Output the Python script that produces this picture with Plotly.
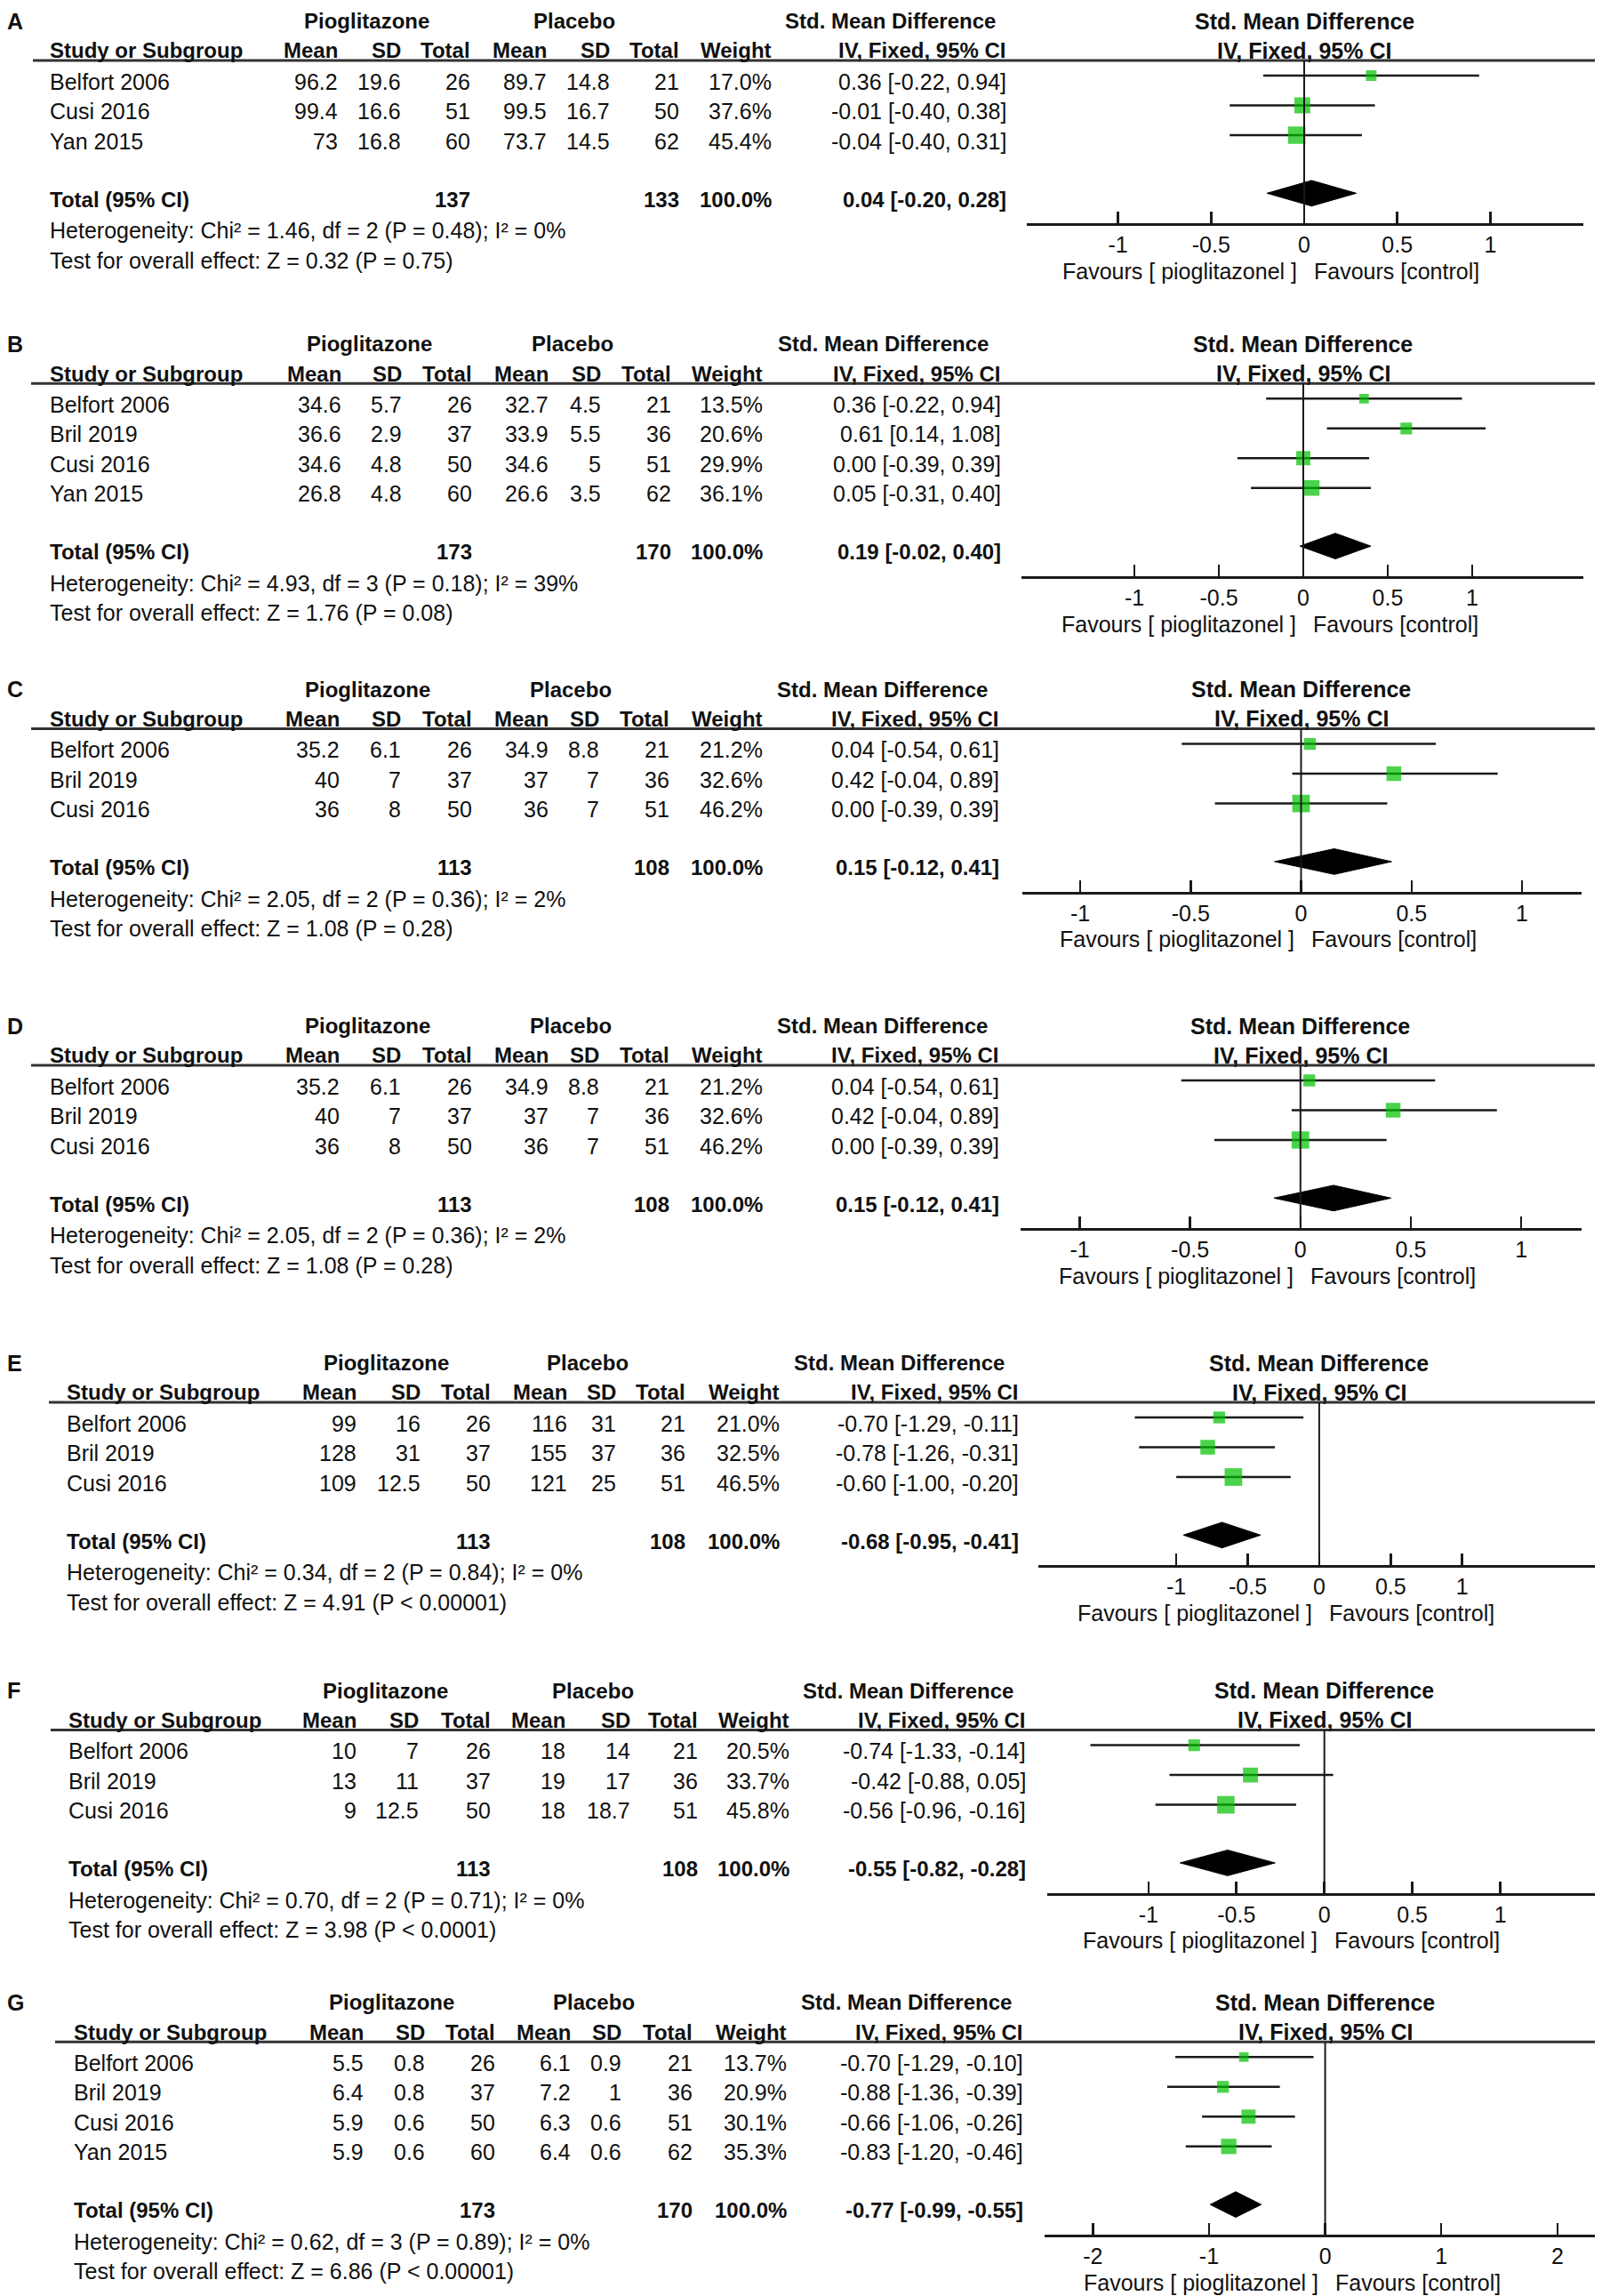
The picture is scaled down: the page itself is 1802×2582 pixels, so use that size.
import math
import plotly.graph_objects as go

W, H = 1802, 2582
FONT = "Liberation Sans, Arial, Helvetica, sans-serif"
TXT = "#111111"
GREEN = "#00c000"

# ------------------------------------------------------------------ data
A_study = ["Belfort 2006", "Cusi 2016", "Yan 2015"]
A_pio_mean = [96.2, 99.4, 73]
A_pio_sd = [19.6, 16.6, 16.8]
A_pio_n = [26, 51, 60]
A_pla_mean = [89.7, 99.5, 73.7]
A_pla_sd = [14.8, 16.7, 14.5]
A_pla_n = [21, 50, 62]
A_weight = [17.0, 37.6, 45.4]
A_smd = [0.36, -0.01, -0.04]
A_lo = [-0.22, -0.40, -0.40]
A_hi = [0.94, 0.38, 0.31]
A_total = [137, 133, 100.0, 0.04, -0.20, 0.28]
A_het = "Heterogeneity: Chi² = 1.46, df = 2 (P = 0.48); I² = 0%"
A_test = "Test for overall effect: Z = 0.32 (P = 0.75)"
A_tickvals = [-1, -0.5, 0, 0.5, 1]
A_ticktext = ["-1", "-0.5", "0", "0.5", "1"]

B_study = ["Belfort 2006", "Bril 2019", "Cusi 2016", "Yan 2015"]
B_pio_mean = [34.6, 36.6, 34.6, 26.8]
B_pio_sd = [5.7, 2.9, 4.8, 4.8]
B_pio_n = [26, 37, 50, 60]
B_pla_mean = [32.7, 33.9, 34.6, 26.6]
B_pla_sd = [4.5, 5.5, 5, 3.5]
B_pla_n = [21, 36, 51, 62]
B_weight = [13.5, 20.6, 29.9, 36.1]
B_smd = [0.36, 0.61, 0.00, 0.05]
B_lo = [-0.22, 0.14, -0.39, -0.31]
B_hi = [0.94, 1.08, 0.39, 0.40]
B_total = [173, 170, 100.0, 0.19, -0.02, 0.40]
B_het = "Heterogeneity: Chi² = 4.93, df = 3 (P = 0.18); I² = 39%"
B_test = "Test for overall effect: Z = 1.76 (P = 0.08)"
B_tickvals = [-1, -0.5, 0, 0.5, 1]
B_ticktext = ["-1", "-0.5", "0", "0.5", "1"]

C_study = ["Belfort 2006", "Bril 2019", "Cusi 2016"]
C_pio_mean = [35.2, 40, 36]
C_pio_sd = [6.1, 7, 8]
C_pio_n = [26, 37, 50]
C_pla_mean = [34.9, 37, 36]
C_pla_sd = [8.8, 7, 7]
C_pla_n = [21, 36, 51]
C_weight = [21.2, 32.6, 46.2]
C_smd = [0.04, 0.42, 0.00]
C_lo = [-0.54, -0.04, -0.39]
C_hi = [0.61, 0.89, 0.39]
C_total = [113, 108, 100.0, 0.15, -0.12, 0.41]
C_het = "Heterogeneity: Chi² = 2.05, df = 2 (P = 0.36); I² = 2%"
C_test = "Test for overall effect: Z = 1.08 (P = 0.28)"
C_tickvals = [-1, -0.5, 0, 0.5, 1]
C_ticktext = ["-1", "-0.5", "0", "0.5", "1"]

D_study = ["Belfort 2006", "Bril 2019", "Cusi 2016"]
D_pio_mean = [35.2, 40, 36]
D_pio_sd = [6.1, 7, 8]
D_pio_n = [26, 37, 50]
D_pla_mean = [34.9, 37, 36]
D_pla_sd = [8.8, 7, 7]
D_pla_n = [21, 36, 51]
D_weight = [21.2, 32.6, 46.2]
D_smd = [0.04, 0.42, 0.00]
D_lo = [-0.54, -0.04, -0.39]
D_hi = [0.61, 0.89, 0.39]
D_total = [113, 108, 100.0, 0.15, -0.12, 0.41]
D_het = "Heterogeneity: Chi² = 2.05, df = 2 (P = 0.36); I² = 2%"
D_test = "Test for overall effect: Z = 1.08 (P = 0.28)"
D_tickvals = [-1, -0.5, 0, 0.5, 1]
D_ticktext = ["-1", "-0.5", "0", "0.5", "1"]

E_study = ["Belfort 2006", "Bril 2019", "Cusi 2016"]
E_pio_mean = [99, 128, 109]
E_pio_sd = [16, 31, 12.5]
E_pio_n = [26, 37, 50]
E_pla_mean = [116, 155, 121]
E_pla_sd = [31, 37, 25]
E_pla_n = [21, 36, 51]
E_weight = [21.0, 32.5, 46.5]
E_smd = [-0.70, -0.78, -0.60]
E_lo = [-1.29, -1.26, -1.00]
E_hi = [-0.11, -0.31, -0.20]
E_total = [113, 108, 100.0, -0.68, -0.95, -0.41]
E_het = "Heterogeneity: Chi² = 0.34, df = 2 (P = 0.84); I² = 0%"
E_test = "Test for overall effect: Z = 4.91 (P < 0.00001)"
E_tickvals = [-1, -0.5, 0, 0.5, 1]
E_ticktext = ["-1", "-0.5", "0", "0.5", "1"]

F_study = ["Belfort 2006", "Bril 2019", "Cusi 2016"]
F_pio_mean = [10, 13, 9]
F_pio_sd = [7, 11, 12.5]
F_pio_n = [26, 37, 50]
F_pla_mean = [18, 19, 18]
F_pla_sd = [14, 17, 18.7]
F_pla_n = [21, 36, 51]
F_weight = [20.5, 33.7, 45.8]
F_smd = [-0.74, -0.42, -0.56]
F_lo = [-1.33, -0.88, -0.96]
F_hi = [-0.14, 0.05, -0.16]
F_total = [113, 108, 100.0, -0.55, -0.82, -0.28]
F_het = "Heterogeneity: Chi² = 0.70, df = 2 (P = 0.71); I² = 0%"
F_test = "Test for overall effect: Z = 3.98 (P < 0.0001)"
F_tickvals = [-1, -0.5, 0, 0.5, 1]
F_ticktext = ["-1", "-0.5", "0", "0.5", "1"]

G_study = ["Belfort 2006", "Bril 2019", "Cusi 2016", "Yan 2015"]
G_pio_mean = [5.5, 6.4, 5.9, 5.9]
G_pio_sd = [0.8, 0.8, 0.6, 0.6]
G_pio_n = [26, 37, 50, 60]
G_pla_mean = [6.1, 7.2, 6.3, 6.4]
G_pla_sd = [0.9, 1, 0.6, 0.6]
G_pla_n = [21, 36, 51, 62]
G_weight = [13.7, 20.9, 30.1, 35.3]
G_smd = [-0.70, -0.88, -0.66, -0.83]
G_lo = [-1.29, -1.36, -1.06, -1.20]
G_hi = [-0.10, -0.39, -0.26, -0.46]
G_total = [173, 170, 100.0, -0.77, -0.99, -0.55]
G_het = "Heterogeneity: Chi² = 0.62, df = 3 (P = 0.89); I² = 0%"
G_test = "Test for overall effect: Z = 6.86 (P < 0.00001)"
G_tickvals = [-2, -1, 0, 1, 2]
G_ticktext = ["-2", "-1", "0", "1", "2"]

HEAD_GROUPS = ["Pioglitazone", "Placebo", "Std. Mean Difference"]
HEAD_COLS = ["Mean", "SD", "Total", "Mean", "SD", "Total", "Weight", "IV, Fixed, 95% CI"]
RIGHT_HEAD = ["Std. Mean Difference", "IV, Fixed, 95% CI"]
FAV_LEFT = "Favours [ pioglitazonel ]"
FAV_RIGHT = "Favours [control]"

# ------------------------------------------------------------------ geometry (pixels)
DY = 33.5
SHIFT_X = -7
SHIFT_Y = -8
GEOM = {
    "A": dict(r0=91.7, line_x=36, study_x=55, cols=[379, 450, 528, 614, 685, 763, 867, 1131],
              hdr=[411, 645, 1000], zero=1466, scale=209.4, xr=(-1.49, 1.50)),
    "B": dict(r0=455, line_x=34, study_x=55, cols=[383, 451, 530, 616, 675, 754, 857, 1125],
              hdr=[414, 643, 992], zero=1465, scale=189.9, xr=(-1.67, 1.66)),
    "C": dict(r0=843.3, line_x=34, study_x=55, cols=[381, 450, 530, 616, 673, 752, 857, 1123],
              hdr=[412, 641, 991], zero=1462.5, scale=248.5, xr=(-1.26, 1.27)),
    "D": dict(r0=1221.7, line_x=34, study_x=55, cols=[381, 450, 530, 616, 673, 752, 857, 1123],
              hdr=[412, 641, 991], zero=1461.8, scale=248.3, xr=(-1.268, 1.275)),
    "E": dict(r0=1600.7, line_x=54, study_x=74, cols=[400, 472, 551, 637, 692, 770, 876, 1145],
              hdr=[433, 660, 1010], zero=1482.9, scale=160.8, xr=(-1.963, 2.02)),
    "F": dict(r0=1969.3, line_x=56, study_x=76, cols=[400, 470, 551, 635, 708, 784, 887, 1153],
              hdr=[432, 666, 1021], zero=1488.7, scale=197.9, xr=(-1.575, 1.61)),
    "G": dict(r0=2320, line_x=61, study_x=82, cols=[408, 477, 556, 641, 698, 778, 884, 1150],
              hdr=[439, 667, 1018], zero=1489.6, scale=130.65, xr=(-2.416, 2.44)),
}

PANELS = [
    ("A", A_study, A_pio_mean, A_pio_sd, A_pio_n, A_pla_mean, A_pla_sd, A_pla_n, A_weight, A_smd, A_lo, A_hi, A_total, A_het, A_test, A_tickvals, A_ticktext),
    ("B", B_study, B_pio_mean, B_pio_sd, B_pio_n, B_pla_mean, B_pla_sd, B_pla_n, B_weight, B_smd, B_lo, B_hi, B_total, B_het, B_test, B_tickvals, B_ticktext),
    ("C", C_study, C_pio_mean, C_pio_sd, C_pio_n, C_pla_mean, C_pla_sd, C_pla_n, C_weight, C_smd, C_lo, C_hi, C_total, C_het, C_test, C_tickvals, C_ticktext),
    ("D", D_study, D_pio_mean, D_pio_sd, D_pio_n, D_pla_mean, D_pla_sd, D_pla_n, D_weight, D_smd, D_lo, D_hi, D_total, D_het, D_test, D_tickvals, D_ticktext),
    ("E", E_study, E_pio_mean, E_pio_sd, E_pio_n, E_pla_mean, E_pla_sd, E_pla_n, E_weight, E_smd, E_lo, E_hi, E_total, E_het, E_test, E_tickvals, E_ticktext),
    ("F", F_study, F_pio_mean, F_pio_sd, F_pio_n, F_pla_mean, F_pla_sd, F_pla_n, F_weight, F_smd, F_lo, F_hi, F_total, F_het, F_test, F_tickvals, F_ticktext),
    ("G", G_study, G_pio_mean, G_pio_sd, G_pio_n, G_pla_mean, G_pla_sd, G_pla_n, G_weight, G_smd, G_lo, G_hi, G_total, G_het, G_test, G_tickvals, G_ticktext),
]

# row-unit offsets (relative to first study row)
TXT_OFF = 0.2
V_HDR1 = -1.83
V_HDR2 = -0.84
V_LINE = -0.51
TOT_GAP = 0.95     # total row = n + TOT_GAP
V_AXIS = 1.99      # axis line = n + V_AXIS
V_HET = 2.2
V_TEST = 3.2
V_FAV = 3.56
DIAMOND_H = 0.43


def num(v):
    return str(v)


fig = go.Figure()
annotations = []
shapes = []
layout_axes = {}


def ann(text, x, y, yref, xanchor="right", bold=False, size=25, xref="paper", xshift=0):
    if bold:
        text = "<b>" + text + "</b>"
    annotations.append(dict(text=text, x=x, y=y, xref=xref, yref=yref, xanchor=xanchor,
                            yanchor="middle", showarrow=False, borderpad=0, borderwidth=0,
                            xshift=xshift,
                            font=dict(family=FONT, size=size, color=TXT)))


def xp(pix):
    return (pix + SHIFT_X) / W


for idx, (letter, study, pm, ps, pn, cm, cs, cn, wt, smd, lo, hi, tot, het, test, tv, tt) in enumerate(PANELS, start=1):
    g = GEOM[letter]
    n = len(study)
    sfx = "" if idx == 1 else str(idx)
    xref, yref = "x" + sfx, "y" + sfx
    r0 = g["r0"] - TXT_OFF * DY + SHIFT_Y

    def px(v):
        return r0 + v * DY

    top_px = max(0.0, px(V_HDR1) - 30)
    bot_px = min(float(H), px(n + V_FAV) + 26)
    yrange = [(bot_px - r0) / DY, (top_px - r0) / DY]
    ydom = [1 - bot_px / H, 1 - top_px / H]
    zero = g["zero"] + SHIFT_X
    xr = list(g["xr"])
    right_px = zero + xr[1] * g["scale"]
    if right_px > W:
        xr[1] = (W - zero) / g["scale"]
    xdom = [max(0, (zero + xr[0] * g["scale"]) / W), min(1, (zero + xr[1] * g["scale"]) / W)]
    v_axis = n + V_AXIS
    v_tot = n + TOT_GAP

    layout_axes["xaxis" + sfx] = dict(
        domain=xdom, range=xr, anchor="free", position=1 - px(v_axis) / H,
        showline=True, linewidth=3, linecolor="#1a1a1a", ticks="inside", ticklen=13,
        tickwidth=2.5, tickcolor="#1a1a1a", tickmode="array", tickvals=tv, ticktext=tt,
        tickfont=dict(family=FONT, size=25, color=TXT), showgrid=False, zeroline=False,
        fixedrange=True, ticklabelstandoff=0)
    layout_axes["yaxis" + sfx] = dict(domain=ydom, range=yrange, visible=False,
                                      anchor=xref, fixedrange=True)

    # CI lines
    cx, cy = [], []
    for i in range(n):
        cx += [lo[i], hi[i], None]
        cy += [i, i, None]
    fig.add_trace(go.Scatter(x=cx, y=cy, mode="lines", line=dict(color="#1a1a1a", width=2.5),
                             xaxis=xref, yaxis=yref, hoverinfo="skip", showlegend=False))
    # study squares
    fig.add_trace(go.Scatter(x=smd, y=list(range(n)), mode="markers",
                             marker=dict(symbol="square", color=GREEN,
                                         size=[2.9 * math.sqrt(w) for w in wt], line=dict(width=0)),
                             xaxis=xref, yaxis=yref, hoverinfo="skip", showlegend=False))
    # total diamond
    te, tlo, thi = tot[3], tot[4], tot[5]
    fig.add_trace(go.Scatter(x=[tlo, te, thi, te, tlo],
                             y=[v_tot, v_tot - DIAMOND_H, v_tot, v_tot + DIAMOND_H, v_tot],
                             mode="lines", fill="toself", fillcolor="#000",
                             line=dict(color="#000", width=1),
                             xaxis=xref, yaxis=yref, hoverinfo="skip", showlegend=False))

    # lines
    shapes.append(dict(type="line", xref="paper", yref=yref, x0=xp(g["line_x"]), x1=1,
                       y0=V_LINE, y1=V_LINE, line=dict(color="#333", width=3)))
    shapes.append(dict(type="line", xref=xref, yref=yref, x0=0, x1=0, y0=V_LINE, y1=v_axis,
                       line=dict(color="#1a1a1a", width=2)))

    # panel letter
    ann(letter, 0, V_HDR1, yref, xanchor="left", bold=True, size=25)
    # header rows
    for txt, hx in zip(HEAD_GROUPS, g["hdr"]):
        ann(txt, xp(hx), V_HDR1, yref, xanchor="center", bold=True, size=24)
    ann("Study or Subgroup", xp(g["study_x"]), V_HDR2, yref, xanchor="left", bold=True, size=24)
    for txt, hx in zip(HEAD_COLS, g["cols"]):
        ann(txt, xp(hx), V_HDR2, yref, xanchor="right", bold=True, size=24)
    ann(RIGHT_HEAD[0], 0, V_HDR1, yref, xanchor="center", bold=True, size=25, xref=xref)
    ann(RIGHT_HEAD[1], 0, V_HDR2, yref, xanchor="center", bold=True, size=25, xref=xref)

    # study rows
    for i in range(n):
        yy = i + TXT_OFF
        ann(study[i], xp(g["study_x"]), yy, yref, xanchor="left")
        vals = [num(pm[i]), num(ps[i]), num(pn[i]), num(cm[i]), num(cs[i]), num(cn[i]),
                f"{wt[i]:.1f}%", f"{smd[i]:.2f} [{lo[i]:.2f}, {hi[i]:.2f}]"]
        for txt, hx in zip(vals, g["cols"]):
            ann(txt, xp(hx), yy, yref, xanchor="right")

    # total row
    yt = v_tot + TXT_OFF
    ann("Total (95% CI)", xp(g["study_x"]), yt, yref, xanchor="left", bold=True, size=24)
    ann(num(tot[0]), xp(g["cols"][2]), yt, yref, bold=True, size=24)
    ann(num(tot[1]), xp(g["cols"][5]), yt, yref, bold=True, size=24)
    ann(f"{tot[2]:.1f}%", xp(g["cols"][6]), yt, yref, bold=True, size=24)
    ann(f"{te:.2f} [{tlo:.2f}, {thi:.2f}]", xp(g["cols"][7]), yt, yref, bold=True, size=24)
    ann(het, xp(g["study_x"]), n + V_HET, yref, xanchor="left")
    ann(test, xp(g["study_x"]), n + V_TEST, yref, xanchor="left")

    # favours
    ann(FAV_LEFT, 0, n + V_FAV, yref, xanchor="right", xref=xref, xshift=-8)
    ann(FAV_RIGHT, 0, n + V_FAV, yref, xanchor="left", xref=xref, xshift=11)

fig.update_layout(
    width=W, height=H, margin=dict(l=0, r=0, t=0, b=0),
    paper_bgcolor="white", plot_bgcolor="rgba(0,0,0,0)",
    showlegend=False, hovermode=False,
    annotations=annotations, shapes=shapes,
    font=dict(family=FONT, color=TXT),
    **layout_axes,
)

fig.write_html("out.html", config={"displayModeBar": False, "staticPlot": True})
